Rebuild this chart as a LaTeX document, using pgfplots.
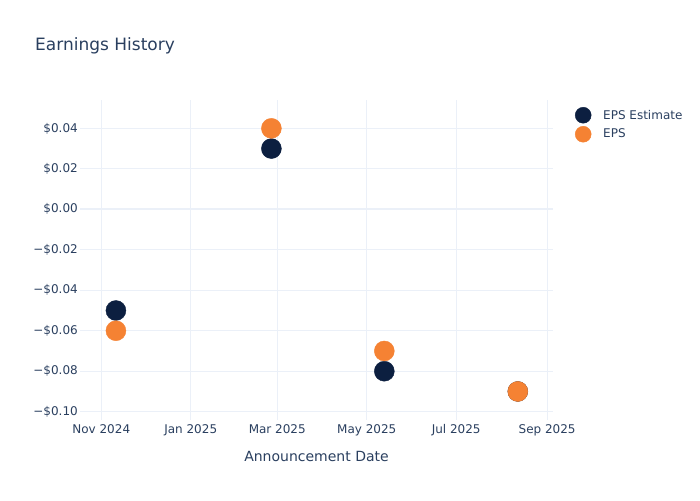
\documentclass[border=0pt]{standalone}
\usepackage{pgfplots}
\pgfplotsset{compat=1.18}
\usepackage{fontspec}
\setmainfont{DejaVu Sans}
\definecolor{txt}{HTML}{2A3F5F}
\definecolor{gridc}{HTML}{EBF0F8}
\definecolor{est}{HTML}{0C1F40}
\definecolor{eps}{HTML}{F58233}
\begin{document}
\begin{tikzpicture}[x=1pt,y=1pt]
\path (0,0) rectangle (700,500);
\begin{axis}[at={(80pt,80pt)}, anchor=south west, scale only axis,
  width=473pt, height=320pt,
  xmin=-14.5, xmax=308, ymin=-0.1041, ymax=0.054,
  axis line style={draw=none}, major tick length=0pt,
  xtick={0,61,120,181,242,304},
  xticklabels={Nov 2024,Jan 2025,Mar 2025,May 2025,Jul 2025,Sep 2025},
  ytick={-0.1,-0.08,-0.06,-0.04,-0.02,0,0.02,0.04},
  yticklabels={−\$0.10,−\$0.08,−\$0.06,−\$0.04,−\$0.02,\$0.00,\$0.02,\$0.04},
  grid=major, grid style={color=gridc, line width=1pt},
  tick label style={font=\fontsize{12}{14}\selectfont, text=txt},
  yticklabel style={anchor=east, inner sep=0pt, xshift=-2pt},
  xticklabel style={anchor=north, inner sep=0pt, yshift=-4pt},
  scaled y ticks=false,
  clip=false,
  legend style={at={(rel axis cs:1.0465,0.978)}, anchor=north west,
    draw=none, fill=none, inner sep=0pt, row sep=3pt, column sep=12pt,
    font=\fontsize{12}{14}\selectfont,
    nodes={inner sep=0pt, text=txt}},
  legend cell align=left,
  legend image code/.code={\draw[#1, mark size=8pt] plot coordinates {(8pt,0pt)};},
]
\draw[gridc, line width=2pt] (axis cs:-14.5,0) -- (axis cs:308,0);
\addplot[only marks, mark=*, mark size=10pt, color=est, mark options={draw=none, fill=est}]
  coordinates {(10,-0.05) (116,0.03) (193,-0.08) (284,-0.09)};
\addlegendentry{EPS Estimate}
\addplot[only marks, mark=*, mark size=10pt, color=eps, mark options={draw=none, fill=eps}]
  coordinates {(10,-0.06) (116,0.04) (193,-0.07) (284,-0.09)};
\addlegendentry{EPS}
\end{axis}
\node[anchor=base west, font=\fontsize{17}{20}\selectfont, text=txt, inner sep=0pt] at (35,449) {Earnings History};
\node[anchor=base, font=\fontsize{14}{17}\selectfont, text=txt, inner sep=0pt] at (316.5,38.5) {Announcement Date};
\end{tikzpicture}
\end{document}
